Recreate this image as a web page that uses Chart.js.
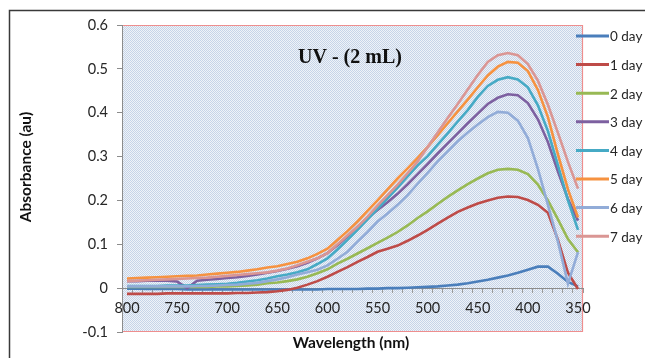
<!DOCTYPE html>
<html>
<head>
<meta charset="utf-8">
<script src="https://cdn.jsdelivr.net/npm/chart.js@4.4.1/dist/chart.umd.min.js"></script>
<style>
    html, body { margin: 0; padding: 0; background: #fff; }
    #wrap { width: 645px; height: 358px; }
</style>
</head>
<body>
<div id="wrap"><canvas id="uv" width="645" height="358"></canvas></div>
<script>
// wavelengths (nm), one point every 10 nm
const wavelengths = [800, 790, 780, 770, 760, 750, 740, 730, 720, 710, 700, 690, 680, 670, 660, 650, 640, 630, 620, 610,
    600, 590, 580, 570, 560, 550, 540, 530, 520, 510, 500, 490, 480, 470, 460, 450, 440, 430, 420, 410,
    400, 390, 380, 370, 360, 350];

const day0 = [-0.001, -0.001, -0.002, -0.002, -0.002, -0.002, -0.003, -0.003, -0.003, -0.003, -0.003, -0.003, -0.003, -0.003, -0.003, -0.003, -0.003, -0.003, -0.003, -0.003,
    -0.002, -0.002, -0.002, -0.002, -0.001, -0.001, 0.0, 0.0, 0.001, 0.002, 0.003, 0.004, 0.006, 0.008, 0.011, 0.015, 0.019, 0.024, 0.029, 0.035,
    0.042, 0.049, 0.049, 0.033, 0.014, 0.004];
const day1 = [-0.013, -0.013, -0.013, -0.013, -0.012, -0.012, -0.012, -0.012, -0.012, -0.012, -0.012, -0.011, -0.011, -0.010, -0.009, -0.007, -0.004, 0.001, 0.008, 0.016,
    0.026, 0.037, 0.048, 0.060, 0.071, 0.083, 0.090, 0.097, 0.108, 0.120, 0.133, 0.147, 0.161, 0.174, 0.184, 0.193, 0.200, 0.206, 0.209, 0.208,
    0.201, 0.190, 0.172, 0.110, 0.035, -0.002];
const day2 = [0.003, 0.003, 0.003, 0.003, 0.003, 0.003, 0.003, 0.003, 0.003, 0.004, 0.004, 0.005, 0.006, 0.008, 0.011, 0.013, 0.016, 0.020, 0.026, 0.034,
    0.043, 0.056, 0.067, 0.079, 0.091, 0.103, 0.115, 0.128, 0.143, 0.160, 0.175, 0.192, 0.208, 0.223, 0.237, 0.250, 0.262, 0.270, 0.272, 0.270,
    0.260, 0.236, 0.200, 0.157, 0.112, 0.082];
const day3 = [0.016, 0.016, 0.017, 0.017, 0.017, 0.015, 0.0, 0.017, 0.019, 0.021, 0.023, 0.025, 0.028, 0.031, 0.035, 0.039, 0.044, 0.050, 0.058, 0.068,
    0.080, 0.098, 0.118, 0.140, 0.160, 0.178, 0.196, 0.215, 0.237, 0.260, 0.283, 0.307, 0.330, 0.353, 0.376, 0.398, 0.420, 0.434, 0.442, 0.440,
    0.422, 0.385, 0.333, 0.266, 0.203, 0.154];
const day4 = [0.005, 0.005, 0.005, 0.005, 0.006, 0.006, 0.006, 0.007, 0.008, 0.009, 0.010, 0.012, 0.015, 0.018, 0.022, 0.027, 0.031, 0.036, 0.043, 0.055,
    0.068, 0.088, 0.110, 0.133, 0.157, 0.181, 0.205, 0.229, 0.255, 0.280, 0.301, 0.327, 0.353, 0.380, 0.406, 0.436, 0.461, 0.475, 0.481, 0.476,
    0.458, 0.417, 0.358, 0.280, 0.200, 0.133];
const day5 = [0.022, 0.023, 0.024, 0.025, 0.026, 0.027, 0.028, 0.029, 0.031, 0.033, 0.035, 0.037, 0.040, 0.043, 0.047, 0.050, 0.055, 0.060, 0.068, 0.078,
    0.090, 0.110, 0.130, 0.152, 0.176, 0.200, 0.225, 0.250, 0.273, 0.297, 0.322, 0.349, 0.376, 0.403, 0.430, 0.458, 0.485, 0.505, 0.516, 0.514,
    0.495, 0.452, 0.390, 0.305, 0.225, 0.161];
const day6 = [0.004, 0.004, 0.004, 0.004, 0.004, 0.004, 0.004, 0.005, 0.005, 0.006, 0.007, 0.008, 0.010, 0.012, 0.016, 0.020, 0.025, 0.031, 0.036, 0.042,
    0.052, 0.067, 0.083, 0.106, 0.128, 0.152, 0.170, 0.190, 0.212, 0.238, 0.263, 0.289, 0.312, 0.335, 0.355, 0.373, 0.390, 0.402, 0.400, 0.382,
    0.342, 0.272, 0.190, 0.106, 0.010, 0.082];
const day7 = [0.016, 0.017, 0.018, 0.019, 0.020, 0.021, 0.022, 0.023, 0.024, 0.026, 0.028, 0.030, 0.032, 0.034, 0.036, 0.040, 0.045, 0.052, 0.060, 0.068,
    0.080, 0.100, 0.120, 0.140, 0.163, 0.188, 0.212, 0.236, 0.262, 0.289, 0.322, 0.355, 0.388, 0.420, 0.453, 0.486, 0.516, 0.531, 0.536, 0.531,
    0.511, 0.473, 0.418, 0.354, 0.288, 0.227];

const seriesNames = ["0 day", "1 day", "2 day", "3 day", "4 day", "5 day", "6 day", "7 day"];
const seriesValues = [day0, day1, day2, day3, day4, day5, day6, day7];
const seriesColors = ["#4a7ebb", "#be4b48", "#98b954", "#7d60a0", "#46aac5", "#f69240", "#92acd8", "#da9694"];

const xLabels = [800, 750, 700, 650, 600, 550, 500, 450, 400, 350];
const yLabels = [-0.1, 0, 0.1, 0.2, 0.3, 0.4, 0.5, 0.6];

const FONT = "Lato, 'Liberation Sans', sans-serif";

// dotted light blue fill of the plot area
const patCanvas = document.createElement("canvas");
patCanvas.width = 2;
patCanvas.height = 2;
const pc = patCanvas.getContext("2d");
pc.fillStyle = "#eff3f8";
pc.fillRect(0, 0, 2, 2);
pc.fillStyle = "#c6d4e8";
pc.fillRect(0, 0, 1, 1);
pc.fillRect(1, 1, 1, 1);

const decor = {
    id: "decor",
    beforeDraw(chart) {
        const { ctx, chartArea: a } = chart;
        ctx.save();
        ctx.fillStyle = "#fff";
        ctx.fillRect(0, 0, chart.width, chart.height);
        ctx.fillStyle = ctx.createPattern(patCanvas, "repeat");
        ctx.fillRect(a.left, a.top, a.right - a.left, a.bottom - a.top);
        ctx.strokeStyle = "#ee8e8e";
        ctx.lineWidth = 1.2;
        ctx.beginPath();
        ctx.moveTo(a.left, a.top + 0.5);
        ctx.lineTo(a.right - 0.5, a.top + 0.5);
        ctx.lineTo(a.right - 0.5, a.bottom - 0.5);
        ctx.lineTo(a.left, a.bottom - 0.5);
        ctx.stroke();
        ctx.restore();
    },
    afterDraw(chart) {
        const ctx = chart.ctx;
        ctx.save();
        // outer frame (only top and left are inside the picture)
        ctx.strokeStyle = "#3a3a3a";
        ctx.lineWidth = 1.5;
        ctx.beginPath();
        ctx.moveTo(9.5, chart.height);
        ctx.lineTo(9.5, 10.5);
        ctx.lineTo(chart.width, 10.5);
        ctx.stroke();

        ctx.fillStyle = "#111";
        ctx.textAlign = "center";
        ctx.textBaseline = "middle";
        ctx.font = "bold 20px 'Liberation Serif', 'Times New Roman', serif";
        ctx.fillText("UV - (2 mL)", 350, 58);

        ctx.font = "bold 15.5px " + FONT;
        ctx.fillText("Wavelength (nm)", 351, 343);
        ctx.save();
        ctx.translate(26, 167);
        ctx.rotate(-Math.PI / 2);
        ctx.fillText("Absorbance (au)", 0, 0);
        ctx.restore();

        // legend
        ctx.textAlign = "left";
        ctx.font = "13.5px " + FONT;
        seriesNames.forEach((name, i) => {
            const y = 36 + i * 28.6;
            ctx.strokeStyle = seriesColors[i];
            ctx.lineWidth = 3;
            ctx.beginPath();
            ctx.moveTo(576, y);
            ctx.lineTo(609, y);
            ctx.stroke();
            ctx.fillStyle = "#262626";
            ctx.fillText(name, 610, y + 1);
        });
        ctx.restore();
    },
};

new Chart(document.getElementById("uv"), {
    type: "line",
    data: {
        datasets: seriesNames.map((name, i) => ({
            label: name,
            data: wavelengths.map((w, j) => ({ x: w, y: seriesValues[i][j] })),
            borderColor: seriesColors[i],
            borderWidth: 2.6,
            pointRadius: 0,
            tension: 0,
            fill: false,
            order: seriesNames.length - i,
        })),
    },
    options: {
        responsive: false,
        animation: false,
        layout: { padding: { left: 0, top: 25, right: 62, bottom: 26 } },
        scales: {
            x: {
                type: "linear",
                reverse: true,
                min: 345,
                max: 805,
                position: { y: 0 },
                afterBuildTicks: function (scale) {
                    const ticks = [];
                    for (let v = 345; v <= 805; v += 5) ticks.push({ value: v });
                    scale.ticks = ticks;
                },
                grid: {
                    drawOnChartArea: false,
                    tickLength: 4,
                    tickWidth: 1,
                    tickColor: function (c) {
                        return c.tick && c.tick.value % 10 === 5 ? "#9a9a9a" : "rgba(0,0,0,0)";
                    },
                },
                border: { color: "#8c8c8c", width: 1 },
                ticks: {
                    autoSkip: false,
                    maxRotation: 0,
                    padding: 7,
                    color: "#262626",
                    font: { family: FONT, size: 14.5 },
                    callback: function (value) {
                        return xLabels.includes(value) ? String(value) : "";
                    },
                },
            },
            y: {
                min: -0.1,
                max: 0.6,
                afterFit: function (scale) {
                    scale.width = 122;
                },
                afterBuildTicks: function (scale) {
                    scale.ticks = yLabels.map((v) => ({ value: v }));
                },
                grid: { drawOnChartArea: false, tickLength: 5, tickColor: "#8c8c8c" },
                border: { color: "#8c8c8c", width: 1 },
                ticks: {
                    padding: 9,
                    color: "#262626",
                    font: { family: FONT, size: 14.5 },
                    callback: function (value) {
                        return String(Number(value.toFixed(1)));
                    },
                },
            },
        },
        plugins: {
            legend: { display: false },
            tooltip: { enabled: false },
        },
    },
    plugins: [decor],
});
</script>
</body>
</html>
